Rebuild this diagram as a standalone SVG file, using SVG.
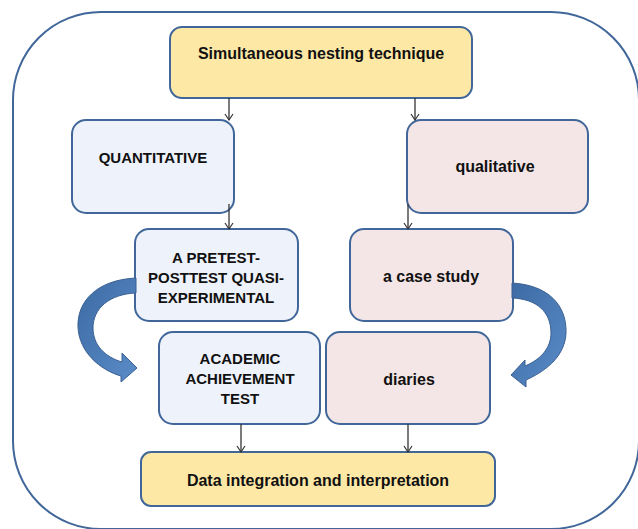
<svg xmlns="http://www.w3.org/2000/svg" width="638" height="529" viewBox="0 0 638 529">
<defs>
<marker id="ah" markerWidth="10" markerHeight="10" refX="8" refY="5" orient="auto" markerUnits="userSpaceOnUse">
<path d="M2,1 L8,5 L2,9" fill="none" stroke="#333" stroke-width="1.2"/>
</marker>
<linearGradient id="bg" x1="0" y1="0" x2="1" y2="1">
<stop offset="0" stop-color="#3d6aa3"/>
<stop offset="1" stop-color="#5a8cc8"/>
</linearGradient>
</defs>
<style>
.box{stroke:#41679a;stroke-width:2}
.y{fill:#fee8a6}
.b{fill:#eef3fb}
.p{fill:#f4e6e6}
text{font-family:"Liberation Sans",Arial,sans-serif;font-weight:bold;fill:#111;text-anchor:middle}
.c{font-size:15px}
.l{font-size:16px}
.conn{stroke:#333;stroke-width:1.3;fill:none}
.big{fill:url(#bg);stroke:#3a6193;stroke-width:1}
</style>
<rect x="13" y="12" width="626" height="517" rx="88" ry="88" fill="#fff" stroke="#41679a" stroke-width="2"/>
<g id="top">
<rect class="box y" x="170" y="27" width="302" height="71" rx="12"/>
<text class="l" x="321" y="59">Simultaneous nesting technique</text>
</g>
<g id="quantitative">
<rect class="box b" x="72" y="120" width="162" height="93" rx="14"/>
<text class="c" x="153" y="163">QUANTITATIVE</text>
</g>
<g id="qualitative">
<rect class="box p" x="407" y="120" width="181" height="93" rx="14"/>
<text class="l" x="495" y="172">qualitative</text>
</g>
<g id="pretest">
<rect class="box b" x="135" y="229" width="163" height="92" rx="14"/>
<text class="c" x="216" y="263">A PRETEST-</text>
<text class="c" x="216" y="283">POSTTEST QUASI-</text>
<text class="c" x="216" y="303">EXPERIMENTAL</text>
</g>
<g id="casestudy">
<rect class="box p" x="350" y="229" width="163" height="92" rx="14"/>
<text class="l" x="431" y="282">a case study</text>
</g>
<g id="academic">
<rect class="box b" x="159" y="332" width="161" height="92" rx="14"/>
<text class="c" x="240" y="364">ACADEMIC</text>
<text class="c" x="240" y="384">ACHIEVEMENT</text>
<text class="c" x="240" y="404">TEST</text>
</g>
<g id="diaries">
<rect class="box p" x="326" y="332" width="164" height="92" rx="14"/>
<text class="l" x="409" y="385">diaries</text>
</g>
<g id="data">
<rect class="box y" x="141" y="452" width="354" height="54" rx="10"/>
<text class="l" x="318" y="486">Data integration and interpretation</text>
</g>
<g id="connectors">
<line class="conn" x1="229" y1="98" x2="229" y2="120" marker-end="url(#ah)"/>
<line class="conn" x1="415" y1="98" x2="415" y2="120" marker-end="url(#ah)"/>
<line class="conn" x1="229" y1="204" x2="229" y2="229" marker-end="url(#ah)"/>
<line class="conn" x1="408" y1="204" x2="408" y2="229" marker-end="url(#ah)"/>
<line class="conn" x1="241" y1="424" x2="241" y2="452" marker-end="url(#ah)"/>
<line class="conn" x1="408" y1="424" x2="408" y2="452" marker-end="url(#ah)"/>
<path class="big" d="M136,278 C96,280 77,302 78,327 C79,352 100,370 121,376 L121,382 L137,368 L122,353 L122,362 C105,357 93,345 93,328 C93,308 110,294 136,293 Z"/>
<path class="big" d="M512,283 C548,285 567,305 566,333 C565,355 548,370 526,380 L526,387 L511,375 L525,360 L525,366 C542,359 551,347 551,333 C551,312 537,299 512,298 Z"/>
</g>
</svg>
